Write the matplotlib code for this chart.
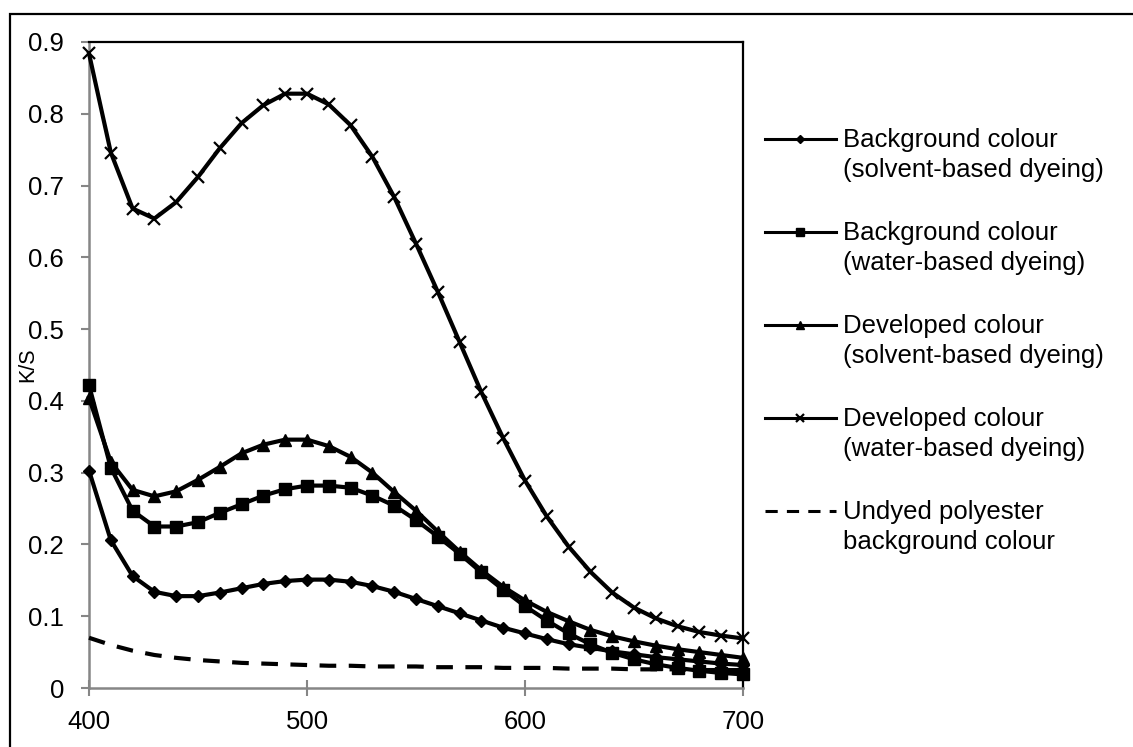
import matplotlib.pyplot as plt
from matplotlib.lines import Line2D
from matplotlib.patches import Rectangle
from matplotlib.ticker import FuncFormatter

plt.rcParams['font.family'] = ['Liberation Sans', 'DejaVu Sans']

# wavelength (nm)
wavelength = list(range(400, 701, 10))

bg_solvent = [0.303, 0.206, 0.156, 0.134, 0.128, 0.128, 0.133, 0.139, 0.145, 0.149, 0.151,
              0.151, 0.148, 0.142, 0.134, 0.124, 0.114, 0.104, 0.094, 0.084, 0.076,
              0.068, 0.061, 0.056, 0.051, 0.047, 0.043, 0.040, 0.037, 0.034, 0.032]
bg_water = [0.422, 0.307, 0.247, 0.225, 0.225, 0.231, 0.244, 0.256, 0.268, 0.277, 0.282,
            0.282, 0.279, 0.268, 0.254, 0.234, 0.211, 0.187, 0.161, 0.137, 0.114,
            0.094, 0.076, 0.061, 0.049, 0.040, 0.033, 0.028, 0.024, 0.021, 0.019]
dev_solvent = [0.404, 0.315, 0.276, 0.267, 0.274, 0.290, 0.308, 0.327, 0.339, 0.346, 0.346,
               0.337, 0.322, 0.300, 0.273, 0.247, 0.218, 0.190, 0.164, 0.141, 0.122,
               0.106, 0.093, 0.081, 0.072, 0.065, 0.059, 0.054, 0.050, 0.046, 0.042]
dev_water = [0.884, 0.746, 0.668, 0.654, 0.677, 0.712, 0.752, 0.787, 0.812, 0.828, 0.828,
             0.813, 0.784, 0.740, 0.684, 0.619, 0.552, 0.482, 0.412, 0.348, 0.289,
             0.239, 0.197, 0.162, 0.133, 0.112, 0.097, 0.086, 0.078, 0.073, 0.069]
undyed = [0.070, 0.060, 0.052, 0.046, 0.042, 0.039, 0.037, 0.035, 0.034, 0.033, 0.032,
          0.031, 0.031, 0.030, 0.030, 0.030, 0.029, 0.029, 0.029, 0.028, 0.028,
          0.028, 0.027, 0.027, 0.027, 0.026, 0.026, 0.026, 0.025, 0.025, 0.025]

labels = ["Background colour\n(solvent-based dyeing)",
          "Background colour\n(water-based dyeing)",
          "Developed colour\n(solvent-based dyeing)",
          "Developed colour\n(water-based dyeing)",
          "Undyed polyester\nbackground colour"]
series = [bg_solvent, bg_water, dev_solvent, dev_water, undyed]
styles = [dict(marker='D', ms=6),
          dict(marker='s', ms=8),
          dict(marker='^', ms=8),
          dict(marker='x', ms=8, mew=1.6),
          dict(marker=None, ls=(0, (4, 3)))]

x_ticks = [400, 500, 600, 700]
y_ticks = [0, 0.1, 0.2, 0.3, 0.4, 0.5, 0.6, 0.7, 0.8, 0.9]

W, H = 1133, 747
fig = plt.figure(figsize=(W / 100, H / 100), dpi=100)
ax = fig.add_axes([89 / W, 1 - 688 / H, (743 - 89) / W, (688 - 42) / H])

for vals, st in zip(series, styles):
    ax.plot(wavelength, vals, color='black', lw=3, clip_on=False, zorder=3, **st)

gray = '#868686'
ax.set_xlim(400, 700)
ax.set_ylim(0, 0.9)
ax.set_xticks(x_ticks)
ax.set_yticks(y_ticks)
ax.yaxis.set_major_formatter(FuncFormatter(lambda v, p: '%g' % round(v, 2)))
ax.tick_params(axis='x', direction='inout', length=12, width=1.5, color=gray,
               labelsize=18.5, pad=10)
ax.tick_params(axis='y', direction='out', length=6, width=1.5, color=gray,
               labelsize=18.5, pad=12)
for side in ['left', 'bottom']:
    ax.spines[side].set_color(gray)
    ax.spines[side].set_linewidth(1.8)
for side in ['top', 'right']:
    ax.spines[side].set_color('black')
    ax.spines[side].set_linewidth(1.6)

ax.set_ylabel('K/S', fontsize=15.5)
ax.yaxis.set_label_coords(-0.077, 0.5)

# legend drawn by hand so the key sits on the first text line
key_y = [139, 232, 325, 418, 511]
for lab, st, ky in zip(labels, styles, key_y):
    yf = 1 - ky / H
    xs = [765 / W, 800 / W, 836 / W]
    fig.add_artist(Line2D(xs, [yf] * 3, transform=fig.transFigure, color='black', lw=2.2,
                          markevery=[1], **{k: (v * 0.75 if k == 'ms' else v) for k, v in st.items()}))
    fig.text(843 / W, 1 - (ky + 16) / H, lab, fontsize=18.5, ha='left', va='center',
             linespacing=1.33)

# outer chart border
fig.add_artist(Rectangle((10 / W, -0.1), 1.2, 1 - 13.5 / H + 0.1, transform=fig.transFigure,
                         fill=False, edgecolor='black', lw=1.6))

fig.savefig('out.png', dpi=100)
